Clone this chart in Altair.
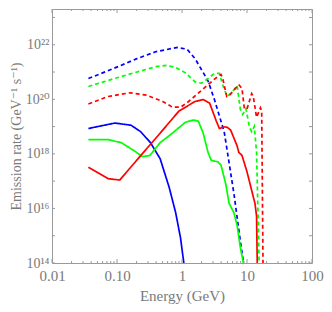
import altair as alt
import pandas as pd

# ---- data (log10 energy in GeV, log10 emission rate) ----
blue_dash_logE = [-1.440, -1.042, -0.694, -0.396, -0.072, 0.077, 0.201, 0.400, 0.500, 0.649, 0.699, 0.799, 0.898, 0.948, 0.960]
blue_dash_logR = [20.76, 21.14, 21.49, 21.75, 21.90, 21.84, 21.49, 20.68, 19.98, 18.81, 18.06, 16.54, 14.79, 14.00, 13.80]

blue_solid_logE = [-1.440, -1.032, -0.784, -0.634, -0.485, -0.336, -0.197, -0.097, -0.022, 0.028, 0.040]
blue_solid_logR = [18.93, 19.13, 19.05, 18.81, 18.41, 17.82, 16.77, 15.84, 14.91, 14.00, 13.80]

green_solid_logE = [-1.440, -1.132, -0.933, -0.734, -0.609, -0.495, -0.336, -0.147, 0.052, 0.177, 0.251, 0.326, 0.400,
                    0.450, 0.550, 0.600, 0.674, 0.724, 0.799, 0.848, 0.898, 0.938, 0.955]
green_solid_logR = [18.52, 18.52, 18.41, 18.11, 17.90, 17.94, 18.41, 18.76, 19.16, 19.24, 19.20, 18.76, 18.06,
                    17.76, 17.71, 17.59, 16.89, 16.19, 15.84, 15.38, 14.56, 14.09, 13.80]

red_solid_logE = [-1.440, -1.132, -0.958, -0.634, -0.336, -0.047, 0.201, 0.326, 0.425, 0.525, 0.575, 0.649, 0.699,
                  0.749, 0.848, 0.873, 0.923, 0.998, 1.072, 1.122, 1.147, 1.157, 1.160]
red_solid_logR = [17.51, 17.09, 17.04, 17.94, 18.76, 19.57, 19.92, 19.99, 19.86, 19.22, 18.93, 18.99, 18.97,
                  18.87, 18.29, 18.06, 17.94, 17.36, 16.66, 16.19, 15.72, 14.09, 13.80]

red_dash_logE = [-1.440, -1.142, -0.794, -0.545, -0.296, -0.147, -0.022, 0.102, 0.301, 0.500, 0.600, 0.624, 0.689,
                 0.724, 0.873, 0.923, 0.958, 0.998, 1.072, 1.097, 1.147, 1.207, 1.226, 1.246, 1.250]
red_dash_logR = [19.83, 20.10, 20.24, 20.15, 19.92, 19.71, 19.71, 19.92, 20.33, 20.74, 20.91, 20.79, 20.10,
                 20.13, 20.54, 20.39, 19.69, 19.63, 20.21, 20.10, 19.34, 19.69, 19.57, 14.00, 13.80]

green_dash_logE = [-1.440, -1.042, -0.694, -0.396, -0.246, -0.097, 0.052, 0.201, 0.301, 0.400, 0.500, 0.575, 0.649,
                   0.699, 0.774, 0.848, 0.898, 0.933, 0.983, 1.037, 1.072, 1.112, 1.147, 1.187, 1.190]
green_dash_logR = [20.47, 20.76, 21.00, 21.20, 21.24, 21.17, 20.97, 20.64, 20.59, 20.76, 20.95, 20.95, 20.36,
                   20.10, 20.27, 20.50, 19.63, 19.45, 19.66, 18.99, 18.81, 19.01, 18.06, 14.00, 13.80]

series = [
    ("blue dashed", "blue", "dashed", blue_dash_logE, blue_dash_logR),
    ("green dashed", "green", "dashed", green_dash_logE, green_dash_logR),
    ("red dashed", "red", "dashed", red_dash_logE, red_dash_logR),
    ("blue solid", "blue", "solid", blue_solid_logE, blue_solid_logR),
    ("green solid", "green", "solid", green_solid_logE, green_solid_logR),
    ("red solid", "red", "solid", red_solid_logE, red_solid_logR),
]

x_major = [0.01, 0.1, 1, 10, 100]
x_minor = [k * 10.0 ** p for p in range(-2, 2) for k in range(2, 10)]
y_major = [1e14, 1e16, 1e18, 1e20, 1e22]
y_ticks = [10.0 ** p for p in range(14, 24)]

rows = []
for name, col, style, le, lr in series:
    for i, (a, b) in enumerate(zip(le, lr)):
        rows.append({"series": name, "col": col, "style": style, "i": i, "E": 10 ** a, "R": 10 ** b})
df = pd.DataFrame(rows)

W, H = 260, 254
FONT = "Liberation Serif, DejaVu Serif"
LABC = "#7a7a7a"
FRAME = "#9a9a9a"

xscale = alt.Scale(type="log", domain=[0.01, 100], nice=False)
yscale = alt.Scale(type="log", domain=[1e14, 10 ** 23.31], nice=False)

sup_expr = ("'10' + (round(log(datum.value)/LN10) == 14 ? '¹⁴' : round(log(datum.value)/LN10) == 16 ? '¹⁶' : "
            "round(log(datum.value)/LN10) == 18 ? '¹⁸' : round(log(datum.value)/LN10) == 20 ? '²⁰' : '²²')")
x_expr = ("datum.value < 0.05 ? '0.01' : datum.value < 0.5 ? '0.10' : datum.value < 5 ? '1' : "
          "datum.value < 50 ? '10' : '100'")

lines = alt.Chart(df).mark_line(clip=True, strokeWidth=1.7).encode(
    x=alt.X("E:Q", scale=xscale,
            axis=alt.Axis(values=x_major, labelExpr=x_expr, ticks=False, domain=False, grid=False,
                          labelFont=FONT, labelFontSize=15, labelColor=LABC, labelPadding=5,
                          labelFlush=False, labelOverlap=False,
                          title="Energy (GeV)", titleFont=FONT, titleFontSize=15, titleColor=LABC,
                          titleFontWeight="normal", titlePadding=5)),
    y=alt.Y("R:Q", scale=yscale,
            axis=alt.Axis(values=y_major, labelExpr=sup_expr, ticks=False, domain=False, grid=False,
                          labelFont=FONT, labelFontSize=14, labelColor=LABC, labelPadding=3,
                          labelBaseline="middle", labelFlush=False, labelOverlap=False,
                          title="Emission rate (GeV⁻¹ s⁻¹)", titleFont=FONT, titleFontSize=14,
                          titleColor=LABC, titleFontWeight="normal", titlePadding=2)),
    color=alt.Color("col:N", scale=alt.Scale(domain=["blue", "green", "red"],
                                             range=["#0000ff", "#00ff00", "#ff0000"]), legend=None),
    strokeDash=alt.StrokeDash("style:N", scale=alt.Scale(domain=["solid", "dashed"],
                                                         range=[[1, 0], [4, 3]]), legend=None),
    detail="series:N",
    order="i:Q",
)

xmaj = pd.DataFrame({"E": x_major})
xmin = pd.DataFrame({"E": x_minor})
ytk = pd.DataFrame({"R": y_ticks})

def xr(d, y0, y1):
    return alt.Chart(d).mark_rule(color=FRAME, strokeWidth=1).encode(
        x=alt.X("E:Q", scale=xscale), y=alt.value(y0), y2=alt.value(y1))

def yr(d, x0, x1):
    return alt.Chart(d).mark_rule(color=FRAME, strokeWidth=1).encode(
        y=alt.Y("R:Q", scale=yscale), x=alt.value(x0), x2=alt.value(x1))

ticks = [
    xr(xmaj, H, H - 4), xr(xmaj, 0, 4),
    xr(xmin, H, H - 2), xr(xmin, 0, 2),
    yr(ytk, 0, 3), yr(ytk, W, W - 3),
]

chart = alt.layer(lines, *ticks).properties(
    width=W, height=H,
    autosize=alt.AutoSizeParams(type="none"),
    padding={"left": 44, "top": 1, "right": 12, "bottom": 41},
).configure_view(stroke=FRAME, strokeWidth=1).configure_axis(grid=False)

chart.save("out.html", embed_options={"renderer": "svg", "actions": False})
